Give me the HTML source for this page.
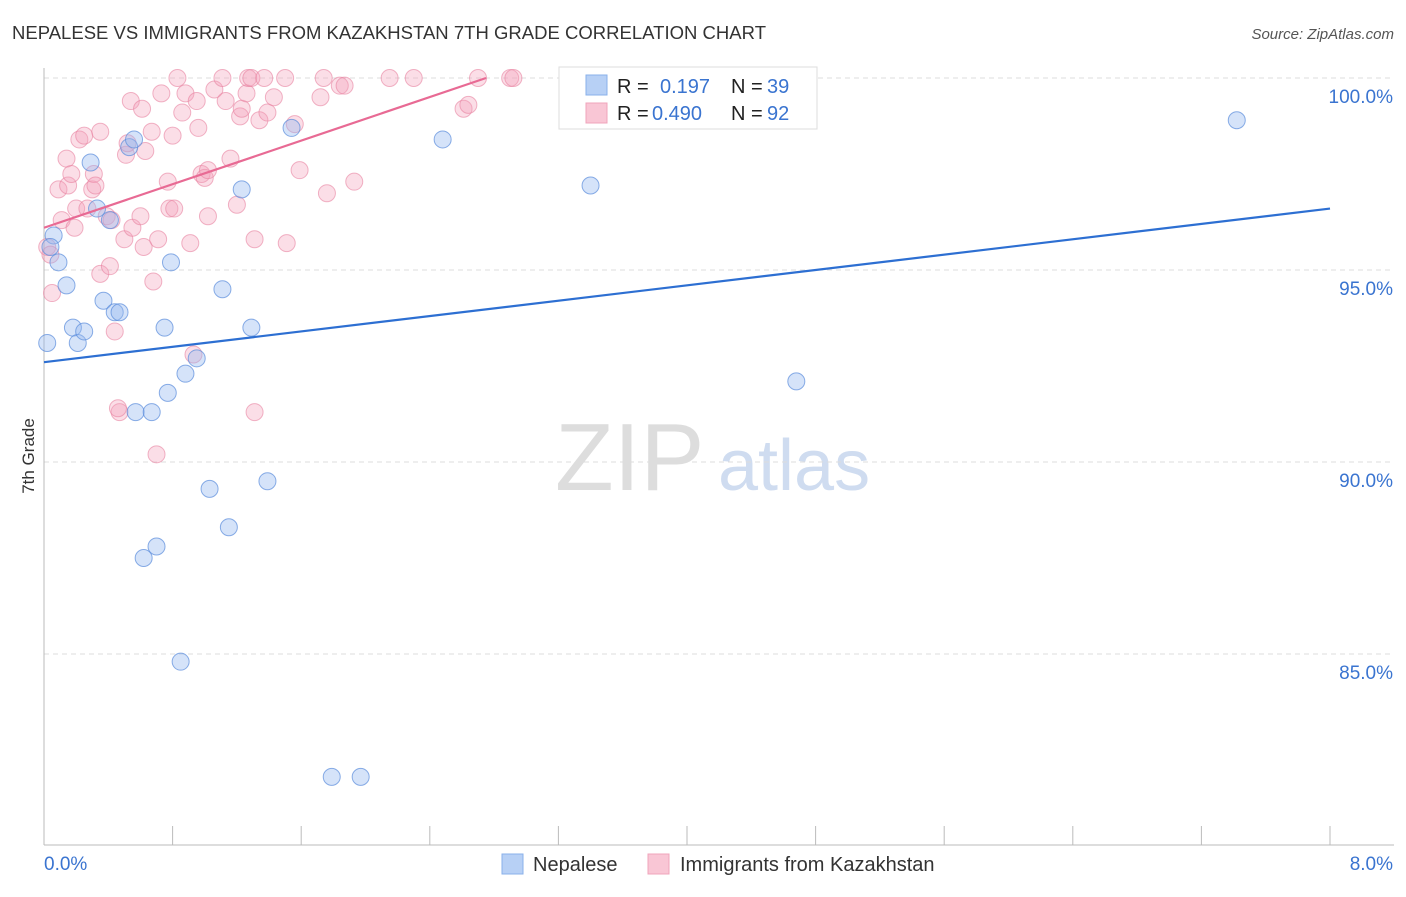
<!DOCTYPE html>
<html><head><meta charset="utf-8"><style>
body{margin:0;background:#fff;font-family:"Liberation Sans",sans-serif;}
svg text{font-family:"Liberation Sans",sans-serif;}
</style></head><body>
<svg id="c" width="1406" height="892" xmlns="http://www.w3.org/2000/svg">
<text x="12" y="39" font-size="18.5" fill="#333" textLength="754">NEPALESE VS IMMIGRANTS FROM KAZAKHSTAN 7TH GRADE CORRELATION CHART</text>
<text x="1394" y="39" font-size="15" fill="#555" font-style="italic" text-anchor="end">Source: ZipAtlas.com</text>
<text x="34" y="456" font-size="17" fill="#333" text-anchor="middle" transform="rotate(-90 34 456)">7th Grade</text>
<text x="555" y="490" font-size="96" fill="#ddd" font-family="Liberation Serif">ZIP</text>
<text x="718" y="490" font-size="72" fill="#cfdcf0">atlas</text>
<g id="grid"></g><g id="pts"></g><g id="lines"></g>
<g>
<rect x="559" y="67" width="258" height="62" fill="#fff" stroke="#ddd"/>
<rect x="586" y="75" width="21" height="20" fill="#b7d0f5" stroke="#8ab0ea"/>
<rect x="586" y="103" width="21" height="20" fill="#f9c6d5" stroke="#f0a4bb"/>
<text x="617" y="93" font-size="20" fill="#222">R = </text><text x="660" y="93" font-size="20" fill="#3a74d0">0.197</text>
<text x="731" y="93" font-size="20" fill="#222">N = </text><text x="767" y="93" font-size="20" fill="#3a74d0">39</text>
<text x="617" y="120" font-size="20" fill="#222">R = </text><text x="652" y="120" font-size="20" fill="#3a74d0">0.490</text>
<text x="731" y="120" font-size="20" fill="#222">N = </text><text x="767" y="120" font-size="20" fill="#3a74d0">92</text>
</g>
<g>
<rect x="502" y="854" width="21" height="20" fill="#b7d0f5" stroke="#8ab0ea"/>
<text x="533" y="871" font-size="20" fill="#333">Nepalese</text>
<rect x="648" y="854" width="21" height="20" fill="#f9c6d5" stroke="#f0a4bb"/>
<text x="680" y="871" font-size="20" fill="#333">Immigrants from Kazakhstan</text>
</g>
</svg>
<script>
const yTicks=[100,95,90,85];
const xTickLabels=["0.0%","8.0%"];
const blueX=[0.02,0.09,0.14,0.18,0.21,0.25,0.29,0.33,0.37,0.41,0.44,0.47,0.53,0.56,0.57,0.67,0.62,0.70,0.75,0.77,0.79,0.85,0.88,0.95,1.03,1.11,1.15,1.23,1.29,1.39,1.54,1.79,1.97,2.48,3.40,4.68,7.42,0.06,0.04];
const blueY=[93.1,95.2,94.6,93.5,93.1,93.4,97.8,96.6,94.2,96.3,93.9,93.9,98.2,98.4,91.3,91.3,87.5,87.8,93.5,91.8,95.2,84.8,92.3,92.7,89.3,94.5,88.3,97.1,93.5,89.5,98.7,81.8,81.8,98.4,97.2,92.1,98.9,95.9,95.6];
const pinkX=[0.02,0.05,0.04,0.09,0.11,0.14,0.15,0.17,0.20,0.19,0.22,0.25,0.27,0.30,0.31,0.32,0.35,0.35,0.39,0.41,0.42,0.44,0.47,0.46,0.50,0.51,0.52,0.54,0.55,0.60,0.61,0.62,0.63,0.67,0.68,0.70,0.71,0.73,0.77,0.78,0.80,0.81,0.83,0.86,0.88,0.91,0.93,0.95,0.96,0.98,1.00,1.02,1.02,1.06,1.11,1.13,1.16,1.20,1.22,1.23,1.26,1.27,1.29,1.31,1.31,1.34,1.37,1.39,1.43,1.50,1.51,1.56,1.59,1.72,1.74,1.76,1.84,1.87,1.93,2.15,2.30,2.61,2.64,2.70,2.90,2.92,3.29];
const pinkY=[95.6,94.4,95.4,97.1,96.3,97.9,97.2,97.5,96.6,96.1,98.4,98.5,96.6,97.1,97.5,97.2,98.6,94.9,96.4,95.1,96.3,93.4,91.3,91.4,95.8,98.0,98.3,99.4,96.1,96.4,99.2,95.6,98.1,98.6,94.7,90.2,95.8,99.6,97.3,96.6,98.5,96.6,100,99.1,99.6,95.7,92.8,99.4,98.7,97.5,97.4,97.6,96.4,99.7,100,99.4,97.9,96.7,99.0,99.2,99.6,100,100,95.8,91.3,98.9,100,99.1,99.5,100,95.7,98.8,97.6,99.5,100,97.0,99.8,99.8,97.3,100,100,99.2,99.3,100,100,100,100];
const X=v=>44+v/8*1286, Y=v=>78+(100-v)*38.4;
const NS="http://www.w3.org/2000/svg";
function mk(t,a,p){const e=document.createElementNS(NS,t);for(const k in a)e.setAttribute(k,a[k]);p.appendChild(e);return e;}
const g=document.getElementById('grid');
yTicks.forEach(v=>{
 const l=mk('line',{x1:44,x2:1394,y1:Y(v),y2:Y(v),stroke:'#ddd','stroke-dasharray':'5,4'},g);
 
 
 const t=mk('text',{x:1393,y:Y(v)+25,'font-size':19,fill:'#3a74d0','text-anchor':'end'},g);t.textContent=v.toFixed(1)+'%';
 
 
});
mk('line',{x1:44,x2:44,y1:68,y2:845,stroke:'#bbb'},g);
mk('line',{x1:44,x2:1394,y1:845,y2:845,stroke:'#bbb'},g);
for(let i=0;i<=10;i++){const x=44+i*128.6;mk('line',{x1:x,x2:x,y1:826,y2:845,stroke:'#bbb'},g);}
[[0,'start',44],[1,'end',1393]].forEach(([i,a,x])=>{const t=mk('text',{x:x,y:870,'font-size':19,fill:'#3a74d0','text-anchor':a},g);t.textContent=xTickLabels[i];
 
 });
const p=document.getElementById('pts');
pinkX.forEach((x,i)=>{const c=mk('circle',{cx:X(x),cy:Y(pinkY[i]),r:8.5,fill:'rgba(244,160,185,0.35)',stroke:'rgba(232,130,160,0.6)'},p);
 
 });
blueX.forEach((x,i)=>{const c=mk('circle',{cx:X(x),cy:Y(blueY[i]),r:8.5,fill:'rgba(150,185,240,0.4)',stroke:'rgba(90,140,220,0.7)'},p);
 
 });
const L=document.getElementById('lines');
const b=mk('line',{x1:X(0),y1:Y(92.6),x2:X(8),y2:Y(96.6),stroke:'#2d6fd2','stroke-width':2.2},L);


const pk=mk('line',{x1:X(0),y1:Y(96.1),x2:X(2.75),y2:Y(100),stroke:'#e86a94','stroke-width':2.2},L);


</script>
</body></html>
